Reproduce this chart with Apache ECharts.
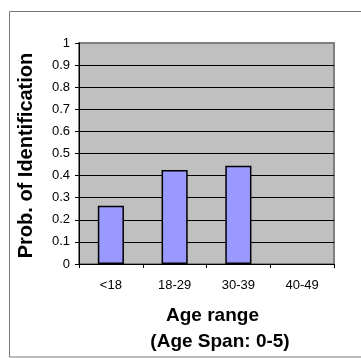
<!DOCTYPE html>
<html><head><meta charset="utf-8">
<script src="https://cdn.jsdelivr.net/npm/echarts@6/dist/echarts.min.js"></script>
<style>html,body{margin:0;padding:0;background:#fff}#c{width:361px;height:358px}</style>
</head><body><div id="c"></div>
<script>
const categories = ['<18', '18-29', '30-39', '40-49'];
const probValues = [0.264, 0.425, 0.445, null];
const yMin = 0, yMax = 1, yStep = 0.1;
const yAxisTitle = 'Prob. of Identification';
const xAxisTitle = 'Age range';
const xAxisSubtitle = '(Age Span: 0-5)';

const FONT = '"Liberation Sans", Arial, sans-serif';
const chart = echarts.init(document.getElementById('c'), null, {renderer: 'canvas'});
chart.setOption({
  animation: false,
  backgroundColor: '#fff',
  grid: {left: 79, top: 43, right: 27, bottom: 94, show: true,
    backgroundColor: '#C0C0C0', borderColor: '#808080', borderWidth: 2},
  xAxis: {
    type: 'category', data: categories,
    axisLine: {lineStyle: {color: '#000', width: 1}},
    axisTick: {show: true, alignWithLabel: false, inside: false, length: 4, lineStyle: {color: '#000'}},
    axisLabel: {color: '#000', fontFamily: FONT, fontSize: 13, margin: 15}
  },
  yAxis: {
    type: 'value', min: yMin, max: yMax, interval: yStep,
    axisLine: {show: true, lineStyle: {color: '#000', width: 1}},
    axisTick: {show: true, length: 4, lineStyle: {color: '#000'}},
    axisLabel: {color: '#000', fontFamily: FONT, fontSize: 13, margin: 9},
    splitLine: {show: true, showMaxLine: false, lineStyle: {color: '#000', width: 1}}
  },
  series: [{
    type: 'bar', data: probValues, barCategoryGap: '59%',
    itemStyle: {color: '#9999FF', borderColor: '#000', borderWidth: 1.5}
  }],
  graphic: [
    {type: 'rect', shape: {x: 9.5, y: 11.5, width: 360, height: 345.5},
     style: {fill: 'none', stroke: '#777', lineWidth: 1}, silent: true},
    {type: 'text', x: 26, y: 155.5, rotation: Math.PI / 2,
     style: {text: yAxisTitle, font: 'bold 20px ' + FONT, fill: '#000',
       textAlign: 'center', textVerticalAlign: 'middle', align: 'center', verticalAlign: 'middle'}},
    {type: 'text', x: 212.5, y: 316,
     style: {text: xAxisTitle, font: 'bold 19px ' + FONT, fill: '#000',
       textAlign: 'center', textVerticalAlign: 'middle', align: 'center', verticalAlign: 'middle'}},
    {type: 'text', x: 220, y: 342,
     style: {text: xAxisSubtitle, font: 'bold 19px ' + FONT, fill: '#000',
       textAlign: 'center', textVerticalAlign: 'middle', align: 'center', verticalAlign: 'middle'}}
  ]
});
</script>
</body></html>
